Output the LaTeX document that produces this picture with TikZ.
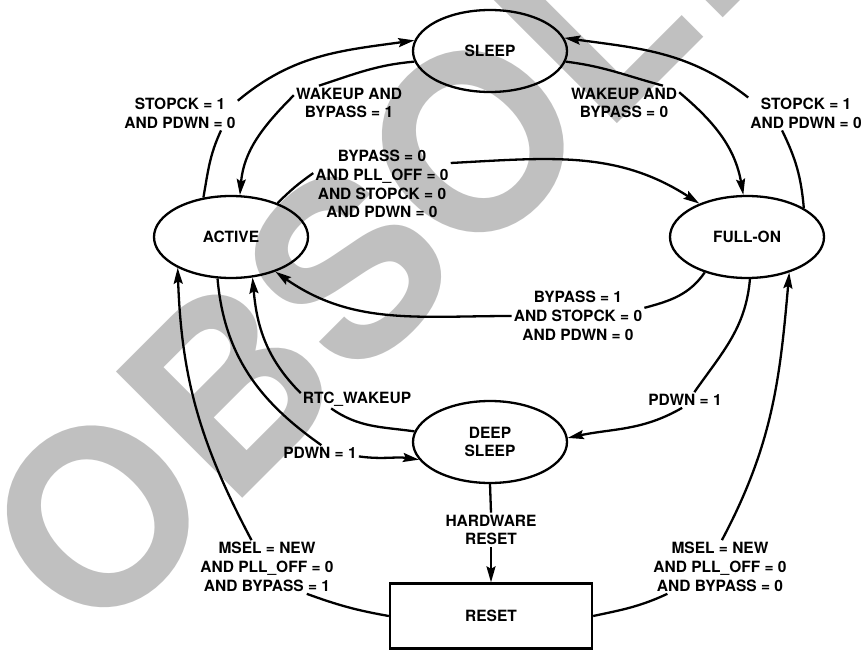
\documentclass[tikz,border=0pt]{standalone}
\usepackage{fontspec}
\setmainfont{TeX Gyre Heros}
\usetikzlibrary{arrows.meta,shapes.geometric}
\definecolor{wmgray}{RGB}{192,192,192}
\begin{document}
\begin{tikzpicture}[x=1pt,y=-1pt,
  every node/.style={font=\bfseries\fontsize{15.5}{18.8}\selectfont},
  stnode/.style={ellipse, draw, line width=2.3pt, minimum width=154pt, minimum height=82pt, inner sep=0pt, align=center},
  boxnode/.style={draw, line width=2.3pt, minimum width=202pt, minimum height=65pt, inner sep=0pt},
  lbl/.style={align=center, inner sep=2pt},
  conn/.style={line width=2.3pt},
  arr/.style={conn, -{Stealth[length=16pt,width=9pt,inset=2.5pt]}}]
\useasboundingbox (0,0) rectangle (864,650);
% watermark
\node[rotate=45, anchor=base west, inner sep=0pt, text=wmgray, font=\bfseries\fontsize{245}{245}\selectfont] (wm) at (93.3,647.7) {OBSOLETE};
% states
\node[stnode] (sleep) at (490,51) {SLEEP};
\node[stnode] (active) at (231,237) {ACTIVE};
\node[stnode] (fullon) at (747,237) {FULL-ON};
\node[stnode] (deep) at (490,442) {DEEP\\SLEEP};
\node[boxnode] (reset) at (491,616) {RESET};
% labels
\node[lbl] (stopL) at (180,113) {STOPCK = 1\\AND PDWN = 0};
\node[lbl] (wakeL) at (349,103) {WAKEUP AND\\BYPASS = 1};
\node[lbl] (wakeR) at (624,103) {WAKEUP AND\\BYPASS = 0};
\node[lbl] (stopR) at (806,113) {STOPCK = 1\\AND PDWN = 0};
\node[lbl] (bypL) at (382,184) {BYPASS = 0\\AND PLL\_OFF = 0\\AND STOPCK = 0\\AND PDWN = 0};
\node[lbl] (bypR) at (578,316) {BYPASS = 1\\AND STOPCK = 0\\AND PDWN = 0};
\node[lbl] (pdR) at (685,400) {PDWN = 1};
\node[lbl] (pdL) at (320,453) {PDWN = 1};
\node[lbl] (rtc) at (357,399) {RTC\_WAKEUP};
\node[lbl] (hw) at (491,530) {HARDWARE\\RESET};
\node[lbl] (mselL) at (267,567) {MSEL = NEW\\AND PLL\_OFF = 0\\AND BYPASS = 1};
\node[lbl] (mselR) at (720,567) {MSEL = NEW\\AND PLL\_OFF = 0\\AND BYPASS = 0};
% connectors
\draw[conn] (active.125) to[out=80,in=-115] (stopL.-23);
\draw[arr] (stopL.12) to[out=40,in=188] (sleep.172);
\draw[conn] (sleep.188) to[out=185,in=18] (wakeL.150);
\draw[arr] (wakeL.172) to[out=225,in=85] (active.78);
\draw[conn] (sleep.-8) to[out=-7,in=165] (wakeR.24);
\draw[arr] (wakeR.11) to[out=-40,in=100] (fullon.95);
\draw[conn] (fullon.27) to[out=95,in=-64] (stopR.-144);
\draw[arr] (stopR.165) to[out=142,in=-8] (sleep.10);
\draw[conn] (active.36.5) to[out=45,in=-145] (bypL.171);
\draw[arr] (bypL.17) to[out=3,in=147] (fullon.145);
\draw[conn] (fullon.-140) to[out=-125,in=15] (bypR.7);
\draw[arr] (bypR.180) to[out=180,in=-35] (active.-38);
\draw[conn] (fullon.-86) to[out=-95,in=55] (pdR.40);
\draw[arr] (pdR.-110) to[out=-150,in=12] (deep.3);
\draw[conn] (reset.east) to[out=12,in=-155] (mselR.-153);
\draw[arr] (mselR.86) to[out=62,in=-95] (fullon.-40.5);
\draw[conn] (reset.west) to[out=170,in=-20] (mselL.-34);
\draw[arr] (mselL.120) to[out=118,in=-88] (active.-150);
\draw[conn] (active.-108) to[out=-85,in=145] (pdL.80);
\draw[arr] (pdL.-5) to[out=-8,in=172] (deep.-166);
\draw[conn] (deep.172) to[out=172,in=-35] (rtc.-160);
\draw[arr] (rtc.174) to[out=135,in=-85] (active.-62);
\draw[conn] (deep.south) -- (hw.north);
\draw[arr] (hw.south) -- (reset.north);
\end{tikzpicture}
\end{document}
